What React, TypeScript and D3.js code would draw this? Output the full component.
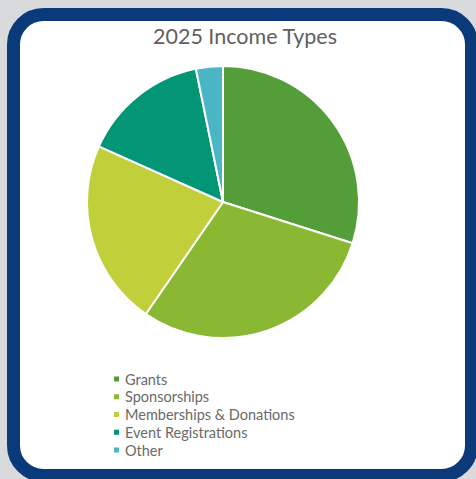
import React from "react";
import * as d3 from "d3";

const categories = ["Grants", "Sponsorships", "Memberships & Donations", "Event Registrations", "Other"];
const values = [29.9, 29.7, 22.1, 15.1, 3.2];
const colors = ["#549E39", "#8AB833", "#C0CF3A", "#029676", "#4AB5C4"];
const title = "2025 Income Types";

export default function App() {
  const W = 476, H = 479;
  const cx = 223, cy = 202, r = 136;
  const pie = d3.pie<number>().sort(null).value((d) => d);
  const arcs = pie(values);
  const arc = d3.arc<d3.PieArcDatum<number>>().innerRadius(0).outerRadius(r);
  const legendY = d3.scalePoint<string>().domain(categories).range([379, 450]);
  return (
    <svg width={W} height={H} style={{ position: "absolute", left: 0, top: 0, display: "block" }}>
      <rect x={0} y={0} width={W} height={H} fill="#d9dadc" />
      <rect x={13.5} y={14.5} width={458} height={461} rx={30} ry={30} fill="#ffffff" stroke="#0b3a7a" strokeWidth={13} />
      <text x={245} y={44} textAnchor="middle" fontFamily="Lato, 'Open Sans', sans-serif" fontSize={21.5} fill="#606060">
        {title}
      </text>
      <g transform={`translate(${cx},${cy})`}>
        {arcs.map((a, i) => (
          <path key={i} d={arc(a) || ""} fill={colors[i]} stroke="#ffffff" strokeWidth={2} strokeLinejoin="round" />
        ))}
      </g>
      <g fontFamily="Lato, 'Open Sans', sans-serif" fontSize={14.5} fill="#6a6a6a">
        {categories.map((c, i) => (
          <g key={c} transform={`translate(0,${legendY(c)})`}>
            <rect x={114} y={-2.5} width={5} height={5} fill={colors[i]} />
            <text x={125} y={0} dominantBaseline="central">{c}</text>
          </g>
        ))}
      </g>
    </svg>
  );
}
